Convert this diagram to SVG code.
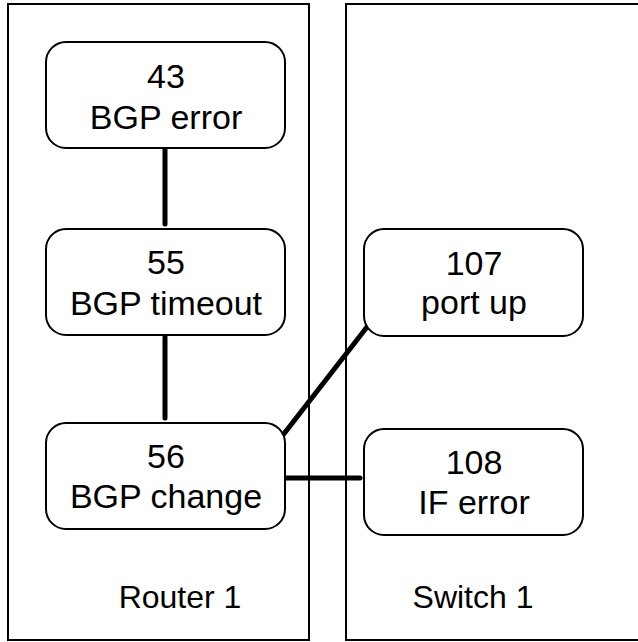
<svg xmlns="http://www.w3.org/2000/svg" width="638" height="642" viewBox="0 0 638 642">
<style>
.box{fill:none;stroke:#000;stroke-width:2}
.node{fill:#fff;stroke:#000;stroke-width:2}
.t{font-family:"Liberation Sans",Arial,Helvetica,sans-serif;font-size:34px;fill:#000;text-anchor:middle}
.l{font-family:"Liberation Sans",Arial,Helvetica,sans-serif;font-size:32px;fill:#000;text-anchor:middle}
.c{stroke:#000;stroke-width:5;stroke-linecap:round;fill:none}
</style>
<rect width="638" height="642" fill="#fff"/>
<g id="router1">
<rect class="box" x="8" y="4" width="301" height="636"/>
<text class="l" x="180" y="608">Router 1</text>
</g>
<g id="switch1">
<rect class="box" x="346" y="4" width="300" height="636"/>
<text class="l" x="473" y="608">Switch 1</text>
</g>
<g id="connectors">
<line class="c" x1="165" y1="150" x2="165" y2="224"/>
<line class="c" x1="165" y1="337" x2="165" y2="418"/>
<line class="c" x1="283" y1="435" x2="367" y2="327"/>
<line class="c" x1="284" y1="478" x2="360" y2="478"/>
</g>
<g id="n43">
<rect class="node" x="46" y="42" width="239" height="106" rx="20"/>
<text class="t" x="166" y="88">43</text>
<text class="t" x="166" y="129">BGP error</text>
</g>
<g id="n55">
<rect class="node" x="46" y="229" width="239" height="106" rx="20"/>
<text class="t" x="166" y="274">55</text>
<text class="t" x="166" y="315">BGP timeout</text>
</g>
<g id="n56">
<rect class="node" x="46" y="423" width="239" height="106" rx="20"/>
<text class="t" x="166" y="468">56</text>
<text class="t" x="166" y="508">BGP change</text>
</g>
<g id="n107">
<rect class="node" x="364" y="229" width="219" height="107" rx="20"/>
<text class="t" x="474" y="275">107</text>
<text class="t" x="474" y="314">port up</text>
</g>
<g id="n108">
<rect class="node" x="364" y="429" width="219" height="106" rx="20"/>
<text class="t" x="474" y="474">108</text>
<text class="t" x="474" y="514">IF error</text>
</g>
</svg>
